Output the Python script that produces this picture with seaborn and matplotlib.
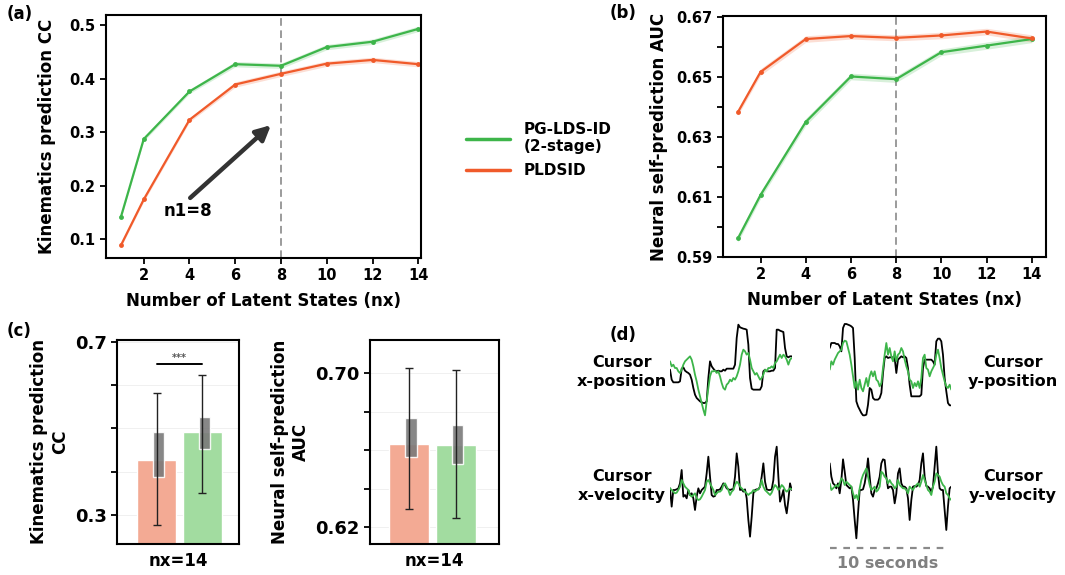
import numpy as np
import pandas as pd
import matplotlib
matplotlib.use("Agg")
import matplotlib.pyplot as plt
from matplotlib.lines import Line2D
import seaborn as sns

sns.set_style("ticks")
plt.rcParams["font.family"] = ["DejaVu Sans"]
plt.rcParams["font.weight"] = "bold"
plt.rcParams["axes.labelweight"] = "bold"
for k in ["text.color", "axes.labelcolor", "xtick.color", "ytick.color"]:
    plt.rcParams[k] = "black"

GREEN = "#3db54a"
RED = "#f05a2a"
GREEN_BAR = "#a2dca0"
RED_BAR = "#f3aa94"

# ---- panel (a)/(b) data ----
nx = [1, 2, 4, 6, 8, 10, 12, 14]
cc_pglds = [0.141, 0.287, 0.376, 0.427, 0.424, 0.459, 0.469, 0.493]
cc_pldsid = [0.088, 0.174, 0.323, 0.389, 0.409, 0.428, 0.435, 0.427]
cc_pglds_err = [0.003, 0.004, 0.004, 0.005, 0.005, 0.005, 0.005, 0.005]
cc_pldsid_err = [0.003, 0.004, 0.004, 0.005, 0.005, 0.005, 0.005, 0.005]

auc_pglds = [0.5962, 0.6107, 0.6351, 0.6503, 0.6494, 0.6584, 0.6606, 0.6628]
auc_pldsid = [0.6384, 0.6518, 0.6628, 0.6638, 0.6632, 0.6640, 0.6653, 0.6630]
auc_pglds_err = [0.0012, 0.0012, 0.0012, 0.0011, 0.0011, 0.0011, 0.0012, 0.0012]
auc_pldsid_err = [0.0010, 0.0011, 0.0011, 0.0010, 0.0010, 0.0011, 0.0011, 0.0012]

# ---- panel (c) data (nx=14) ----
methods = ["PLDSID", "PG-LDS-ID (2-stage)"]
bar_cc = [0.426, 0.4915]
cc_box_lo = [0.388, 0.453]
cc_box_hi = [0.492, 0.526]
cc_whisk_lo = [0.277, 0.350]
cc_whisk_hi = [0.582, 0.623]

bar_auc = [0.6633, 0.6628]
auc_box_lo = [0.6567, 0.6528]
auc_box_hi = [0.6766, 0.6732]
auc_whisk_lo = [0.6295, 0.6247]
auc_whisk_hi = [0.7030, 0.7017]

# ---- panel (d) example traces (arbitrary units, larger = lower on screen) ----
xpos_true = [155, 185, 193, 193, 193, 193, 190, 152, 148, 158, 162, 165, 170, 185, 210, 230,
             240, 245, 250, 253, 255, 255, 250, 180, 130, 145, 152, 158, 160, 158, 160, 160,
             155, 158, 152, 152, 152, 152, 152, 140, 60, 20, 28, 30, 32, 33, 35, 80, 180, 212,
             215, 215, 215, 215, 215, 205, 160, 155, 160, 160, 160, 158, 158, 150, 35, 35, 38,
             40, 42, 90, 115, 118, 115, 115]
xpos_pred = [130, 145, 140, 150, 150, 160, 165, 155, 140, 130, 125, 120, 115, 125, 145, 170,
             190, 215, 235, 255, 275, 292, 250, 210, 175, 160, 160, 158, 165, 160, 175, 195,
             210, 215, 200, 195, 185, 190, 180, 185, 175, 160, 140, 110, 95, 100, 110, 105, 125,
             150, 160, 170, 165, 175, 185, 180, 170, 155, 160, 150, 150, 145, 150, 135, 130, 120,
             110, 120, 110, 115, 125, 140, 125, 120]
ypos_true = [90, 75, 75, 75, 78, 78, 85, 100, 30, 18, 18, 20, 22, 25, 30, 120, 250, 265, 275,
             285, 292, 292, 290, 260, 210, 215, 240, 245, 245, 245, 240, 225, 165, 120, 115, 120,
             118, 118, 118, 120, 165, 125, 120, 115, 118, 115, 120, 150, 200, 235, 235, 235, 235,
             235, 235, 230, 150, 125, 125, 125, 125, 125, 130, 140, 70, 62, 62, 70, 110, 180, 220,
             255, 262, 262]
ypos_pred = [155, 130, 140, 125, 115, 105, 100, 95, 75, 68, 70, 90, 110, 140, 175, 210, 190, 215,
             185, 210, 220, 200, 180, 205, 175, 160, 175, 160, 185, 190, 205, 195, 150, 110, 75,
             110, 90, 115, 130, 100, 130, 110, 105, 90, 100, 125, 145, 160, 185, 190, 210, 195,
             205, 190, 210, 180, 120, 110, 150, 155, 175, 160, 150, 140, 110, 95, 120, 150, 170,
             190, 205, 210, 200, 215]
xvel_true = [145, 200, 150, 150, 148, 145, 130, 90, 170, 165, 175, 150, 165, 160, 175, 210, 170,
             145, 160, 150, 145, 140, 100, 50, 110, 165, 170, 168, 150, 150, 148, 140, 130, 135,
             145, 148, 150, 148, 148, 110, 40, 80, 150, 148, 155, 148, 175, 240, 290, 230, 160,
             150, 148, 148, 140, 110, 70, 125, 148, 150, 150, 148, 120, 50, 20, 110, 185, 170,
             150, 195, 220, 180, 130, 150]
xvel_pred = [145, 150, 155, 160, 158, 150, 140, 120, 130, 140, 145, 150, 165, 170, 165, 160, 175,
             180, 178, 170, 160, 150, 125, 120, 130, 140, 150, 165, 160, 155, 155, 150, 135, 130,
             140, 150, 165, 155, 150, 135, 125, 130, 140, 145, 150, 155, 160, 165, 160, 158, 150,
             155, 150, 148, 140, 120, 140, 150, 155, 160, 165, 158, 145, 135, 140, 150, 145, 135,
             140, 150, 155, 150, 145, 148]
yvel_true = [70, 110, 130, 135, 145, 130, 160, 120, 58, 95, 135, 140, 145, 140, 180, 240, 295,
             220, 150, 150, 148, 130, 100, 55, 110, 160, 170, 150, 145, 130, 110, 70, 58, 60, 110,
             145, 140, 140, 150, 190, 160, 100, 85, 130, 140, 140, 145, 175, 240, 180, 140, 138,
             140, 135, 120, 70, 40, 110, 138, 140, 145, 155, 140, 80, 20, 100, 145, 150, 150, 210,
             270, 200, 145, 140]
yvel_pred = [130, 150, 145, 140, 135, 140, 130, 115, 120, 135, 125, 130, 135, 140, 160, 175, 165,
             180, 145, 120, 105, 95, 85, 110, 135, 150, 145, 140, 155, 150, 140, 95, 100, 110, 115,
             130, 120, 130, 135, 145, 140, 120, 135, 140, 145, 145, 150, 160, 140, 145, 150, 140,
             135, 130, 140, 125, 105, 120, 135, 150, 155, 165, 140, 125, 100, 105, 110, 125, 135,
             140, 160, 165, 175, 180]

fig = plt.figure(figsize=(10.65, 5.75), dpi=100)
W, H = 1065.0, 575.0


def px_axes(l, t, r, b):
    return fig.add_axes([l / W, 1 - b / H, (r - l) / W, (b - t) / H])


def frame(ax, lw=1.5):
    for s in ax.spines.values():
        s.set_visible(True)
        s.set_linewidth(lw)
        s.set_color("black")


def line_panel(ax, y1, e1, y2, e2):
    df = pd.DataFrame({"nx": nx * 2, "val": y1 + y2,
                       "method": ["PG-LDS-ID (2-stage)"] * len(nx) + ["PLDSID"] * len(nx)})
    for y, e, c in [(y1, e1, GREEN), (y2, e2, RED)]:
        ax.fill_between(nx, np.array(y) - np.array(e), np.array(y) + np.array(e),
                        color=c, alpha=0.2, lw=0)
    sns.lineplot(data=df, x="nx", y="val", hue="method",
                 palette={"PG-LDS-ID (2-stage)": GREEN, "PLDSID": RED},
                 marker="o", markersize=3.5, markeredgewidth=0, lw=1.6,
                 legend=False, ax=ax)
    ax.axvline(8, color="#808080", lw=1.1, ls=(0, (5, 3)), zorder=0)
    ax.set_xticks([2, 4, 6, 8, 10, 12, 14])
    ax.set_xlabel("Number of Latent States (nx)", fontsize=12, labelpad=6)
    ax.tick_params(labelsize=10.5, width=1.3, length=4)
    frame(ax)


# ---- (a) ----
axa = px_axes(106, 15, 421, 258)
line_panel(axa, cc_pglds, cc_pglds_err, cc_pldsid, cc_pldsid_err)
axa.set_xlim(0.35, 14.12)
axa.set_ylim(0.0645, 0.519)
axa.set_yticks([0.1, 0.2, 0.3, 0.4, 0.5])
axa.set_ylabel("Kinematics prediction CC", fontsize=12, labelpad=10)
axa.annotate("", xy=(7.65, 0.3165), xytext=(3.94, 0.1734),
             arrowprops=dict(arrowstyle="-|>", lw=3.2, color="#333333", mutation_scale=22))
axa.text(3.94, 0.1516, "n1=8", fontsize=12, fontweight="bold", ha="center", va="center")

# ---- (b) ----
axb = px_axes(723, 16, 1046, 257)
line_panel(axb, auc_pglds, auc_pglds_err, auc_pldsid, auc_pldsid_err)
axb.set_xlim(0.34, 14.63)
axb.set_ylim(0.59, 0.6705)
bt = [0.59, 0.60, 0.61, 0.62, 0.63, 0.64, 0.65, 0.66, 0.67]
axb.set_yticks(bt)
axb.set_yticklabels([f"{v:.2f}" if i % 2 == 0 else "" for i, v in enumerate(bt)])
axb.set_ylabel("Neural self-prediction AUC", fontsize=12, labelpad=6)

# legend between (a) and (b)
handles = [Line2D([], [], color=GREEN, lw=2.5), Line2D([], [], color=RED, lw=2.5)]
fig.legend(handles, ["PG-LDS-ID\n(2-stage)", "PLDSID"], loc="upper left",
           bbox_to_anchor=(452 / W, 1 - 108 / H), frameon=False, fontsize=11,
           handlelength=2.9, handletextpad=0.9, labelspacing=0.6)


# ---- (c) ----
def bar_panel(ax, vals, blo, bhi, wlo, whi):
    df = pd.DataFrame({"method": methods, "val": vals})
    sns.barplot(data=df, x="method", y="val", hue="method",
                palette={methods[0]: RED_BAR, methods[1]: GREEN_BAR},
                width=0.855, errorbar=None, legend=False, ax=ax, saturation=1)
    pos = np.arange(len(methods))
    ax.bar(pos + 0.04, np.array(bhi) - np.array(blo), bottom=blo, width=0.25,
           color="#7a7a7a", alpha=0.9, zorder=3)
    mid = (np.array(whi) + np.array(wlo)) / 2
    ax.errorbar(pos, mid, yerr=(np.array(whi) - np.array(wlo)) / 2, fmt="none",
                ecolor="#222222", elinewidth=1.0, capsize=3, capthick=1.0, zorder=4)
    ax.set_xticks([])
    ax.set_xlabel("nx=14", fontsize=12, labelpad=6)
    ax.tick_params(labelsize=13, width=1.3, length=4)
    ax.grid(axis="y", color="#eeeeee", lw=0.6)
    ax.set_axisbelow(True)
    frame(ax)


axc1 = px_axes(117, 340, 239, 544)
bar_panel(axc1, bar_cc, cc_box_lo, cc_box_hi, cc_whisk_lo, cc_whisk_hi)
axc1.set_xlim(-0.87, 1.80)
axc1.set_ylim(0.233, 0.704)
ct = [0.3, 0.4, 0.5, 0.6, 0.7]
axc1.set_yticks(ct)
axc1.set_yticklabels(["0.3", "", "", "", "0.7"])
axc1.set_ylabel("Kinematics prediction\nCC", fontsize=12, labelpad=4)
axc1.plot([0, 1], [0.648, 0.648], color="black", lw=1.4)
axc1.text(0.5, 0.652, "***", fontsize=7, color="#555555", ha="center", va="bottom")

axc2 = px_axes(370, 340, 499, 544)
bar_panel(axc2, bar_auc, auc_box_lo, auc_box_hi, auc_whisk_lo, auc_whisk_hi)
axc2.set_xlim(-0.842, 1.93)
axc2.set_ylim(0.6113, 0.7173)
at = [0.62, 0.64, 0.66, 0.68, 0.70]
axc2.set_yticks(at)
axc2.set_yticklabels(["0.62", "", "", "", "0.70"])
axc2.set_ylabel("Neural self-prediction\nAUC", fontsize=12, labelpad=4)


# ---- (d) ----
def trace_panel(l, t, r, b, true, pred):
    ax = px_axes(l, t, r, b)
    assert len(true) == len(pred)
    tt = np.arange(len(true))
    sns.lineplot(x=tt, y=true, color="black", lw=1.3, ax=ax)
    sns.lineplot(x=tt, y=pred, color=GREEN, lw=1.3, ax=ax)
    ax.set_xlim(0, len(true) - 1)
    ax.set_ylim(306, 0)
    ax.axis("off")
    return ax


trace_panel(670, 318, 791.7, 420, xpos_true, xpos_pred)
trace_panel(829.7, 318, 951.3, 420, ypos_true, ypos_pred)
trace_panel(670, 440, 791.7, 542, xvel_true, xvel_pred)
trace_panel(829.7, 440, 951.3, 542, yvel_true, yvel_pred)

for x, y, s in [(622, 372, "Cursor\nx-position"), (1013, 372, "Cursor\ny-position"),
                (622, 486, "Cursor\nx-velocity"), (1013, 486, "Cursor\ny-velocity")]:
    fig.text(x / W, 1 - y / H, s, fontsize=11.5, fontweight="bold", ha="center", va="center",
             linespacing=1.3)

fig.add_artist(Line2D([830 / W, 948 / W], [1 - 548 / H] * 2, color="#8a8a8a", lw=1.6,
                      ls=(0, (3, 3))))
fig.text(888 / W, 1 - 564 / H, "10 seconds", fontsize=11.5, fontweight="bold",
         color="#808080", ha="center", va="center")

for x, y, s in [(7, 14, "(a)"), (610, 13, "(b)"), (7, 331, "(c)"), (610, 335, "(d)")]:
    fig.text(x / W, 1 - y / H, s, fontsize=12, fontweight="bold", ha="left", va="center")

fig.savefig("out.png", dpi=100)
